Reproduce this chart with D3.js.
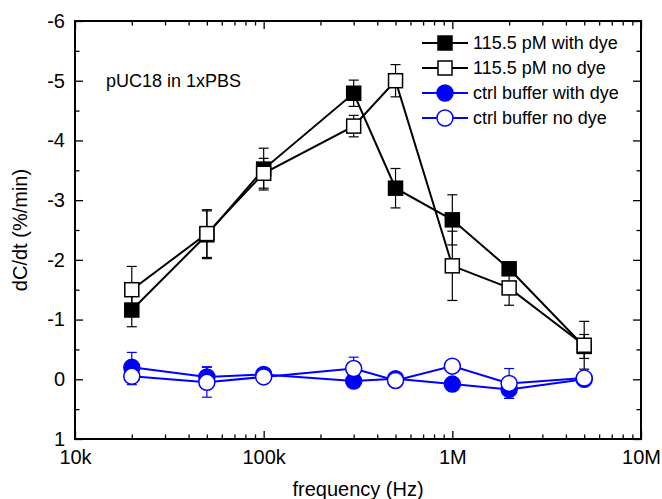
<!DOCTYPE html>
<html lang="en">
<head>
	<meta charset="utf-8">
	<title>dC/dt vs frequency</title>
	<script src="https://cdn.jsdelivr.net/npm/d3@7/dist/d3.min.js"></script>
<style>
	body { margin: 0; background: #fff; }
	svg { font-family: "Liberation Sans", Arial, sans-serif; }
	.axis path { display: none; }
	.axis line { stroke: #000; stroke-width: 1.3; }
	.axis text { font-size: 20px; fill: #000; }
</style>
</head>
<body>
<svg id="chart" width="662" height="499"></svg>
<script>
	// frequencies in Hz
	var freqs = [2e4, 5e4, 1e5, 3e5, 5e5, 1e6, 2e6, 5e6];

	var dyeVals = [-1.16, -2.42, -3.52, -4.79, -3.2, -2.67, -1.85, -0.55];
	var dyeErr = [0.28, 0.4, 0.35, 0.22, 0.33, 0.42, 0.1, 0.2];
	var noDyeVals = [-1.5, -2.44, -3.45, -4.24, -5.0, -1.9, -1.53, -0.57];
	var noDyeErr = [0.39, 0.4, 0.25, 0.18, 0.27, 0.58, 0.29, 0.4];
	var ctrlDyeVals = [-0.2, -0.04, -0.08, 0.03, -0.01, 0.08, 0.17, 0.0];
	var ctrlDyeErr = [0.25, 0.17, 0.1, 0.08, 0.05, 0.06, 0.15, 0.05];
	var ctrlNoDyeVals = [-0.05, 0.05, -0.04, -0.18, 0.02, -0.22, 0.07, -0.02];
	var ctrlNoDyeErr = [0.14, 0.25, 0.06, 0.19, 0.05, 0.05, 0.25, 0.07];

	var seriesNames = ['115.5 pM with dye', '115.5 pM no dye', 'ctrl buffer with dye', 'ctrl buffer no dye'];

	var xTickVals = [1e4, 1e5, 1e6, 1e7];
	var xTickLabels = ['10k', '100k', '1M', '10M'];
	var yTickVals = [-6, -5, -4, -3, -2, -1, 0, 1];
	var yTickLabels = ['-6', '-5', '-4', '-3', '-2', '-1', '0', '1'];

	var svg = d3.select('#chart'),
		margin = {top: 21, right: 21, bottom: 60, left: 75},
		width = +svg.attr('width') - margin.left - margin.right,
		height = +svg.attr('height') - margin.top - margin.bottom;

	var g = svg.append('g')
		.attr('transform', 'translate(' + margin.left + ',' + margin.top + ')');

	var x = d3.scaleLog().domain([1e4, 1e7]).range([0, width]),
		y = d3.scaleLinear().domain([-6, 1]).range([0, height]);

	var minorX = [];
	[1e4, 1e5, 1e6].forEach(function(d) {
		for (var k = 2; k <= 9; k++) minorX.push(d * k);
	});
	var minorY = yTickVals.slice(0, -1).map(function(d) { return d + 0.5; });

	// major + minor ticks on all four sides, pointing inward
	g.append('g').attr('class', 'axis')
		.attr('transform', 'translate(0,' + height + ')')
		.call(d3.axisBottom(x).tickValues(xTickVals).tickSize(-8).tickPadding(11)
			.tickFormat(function(d, i) { return xTickLabels[i]; }));
	g.append('g').attr('class', 'axis')
		.attr('transform', 'translate(0,' + height + ')')
		.call(d3.axisBottom(x).tickValues(minorX).tickSize(-4.5).tickFormat(''));
	g.append('g').attr('class', 'axis')
		.call(d3.axisTop(x).tickValues(xTickVals).tickSize(-8).tickFormat(''));
	g.append('g').attr('class', 'axis')
		.call(d3.axisTop(x).tickValues(minorX).tickSize(-4.5).tickFormat(''));

	g.append('g').attr('class', 'axis')
		.call(d3.axisLeft(y).tickValues(yTickVals).tickSize(-8).tickPadding(10)
			.tickFormat(function(d, i) { return yTickLabels[i]; }));
	g.append('g').attr('class', 'axis')
		.call(d3.axisLeft(y).tickValues(minorY).tickSize(-4.5).tickFormat(''));
	g.append('g').attr('class', 'axis')
		.attr('transform', 'translate(' + width + ',0)')
		.call(d3.axisRight(y).tickValues(yTickVals).tickSize(-8).tickFormat(''));
	g.append('g').attr('class', 'axis')
		.attr('transform', 'translate(' + width + ',0)')
		.call(d3.axisRight(y).tickValues(minorY).tickSize(-4.5).tickFormat(''));

	g.append('rect')
		.attr('width', width).attr('height', height)
		.attr('fill', 'none').attr('stroke', '#000').attr('stroke-width', 2);

	// axis titles
	svg.append('text')
		.attr('x', margin.left + width / 2).attr('y', 496)
		.attr('text-anchor', 'middle').attr('font-size', 20)
		.text('frequency (Hz)');
	svg.append('text')
		.attr('transform', 'translate(27,' + (margin.top + height / 2) + ') rotate(-90)')
		.attr('text-anchor', 'middle').attr('font-size', 20)
		.text('dC/dt (%/min)');

	g.append('text')
		.attr('x', 31).attr('y', 66)
		.attr('font-size', 18)
		.text('pUC18 in 1xPBS');

	var series = [
		{vals: dyeVals, err: dyeErr, color: '#000', shape: 'square', filled: true},
		{vals: noDyeVals, err: noDyeErr, color: '#000', shape: 'square', filled: false},
		{vals: ctrlDyeVals, err: ctrlDyeErr, color: '#0000ff', shape: 'circle', filled: true},
		{vals: ctrlNoDyeVals, err: ctrlNoDyeErr, color: '#0000ff', shape: 'circle', filled: false}
	];

	var line = d3.line()
		.x(function(d) { return x(d[0]); })
		.y(function(d) { return y(d[1]); });

	function drawMarker(sel, s) {
		if (s.shape == 'square') {
			sel.append('rect')
				.attr('x', -7).attr('y', -7).attr('width', 14).attr('height', 14)
				.attr('fill', s.filled ? s.color : '#fff')
				.attr('stroke', s.color).attr('stroke-width', 1.5);
		} else {
			sel.append('circle')
				.attr('r', 8)
				.attr('fill', s.filled ? s.color : '#fff')
				.attr('stroke', s.color).attr('stroke-width', 1.5);
		}
	}

	series.forEach(function(s) {
		var pts = freqs.map(function(f, i) { return [f, s.vals[i], s.err[i]]; });

		var eb = g.append('g').selectAll('g')
			.data(pts).enter().append('g')
			.attr('stroke', s.color).attr('stroke-width', 1.2);
		eb.append('line')
			.attr('x1', function(d) { return x(d[0]); })
			.attr('x2', function(d) { return x(d[0]); })
			.attr('y1', function(d) { return y(d[1] - d[2]); })
			.attr('y2', function(d) { return y(d[1] + d[2]); });
		[-1, 1].forEach(function(sg) {
			eb.append('line')
				.attr('x1', function(d) { return x(d[0]) - 5; })
				.attr('x2', function(d) { return x(d[0]) + 5; })
				.attr('y1', function(d) { return y(d[1] + sg * d[2]); })
				.attr('y2', function(d) { return y(d[1] + sg * d[2]); });
		});

		g.append('path')
			.datum(pts)
			.attr('fill', 'none')
			.attr('stroke', s.color)
			.attr('stroke-width', 2)
			.attr('d', line);

		g.append('g').selectAll('g')
			.data(pts).enter().append('g')
			.attr('transform', function(d) { return 'translate(' + x(d[0]) + ',' + y(d[1]) + ')'; })
			.each(function() { drawMarker(d3.select(this), s); });
	});

	// legend
	var legend = svg.append('g').attr('transform', 'translate(422,43)');
	series.forEach(function(s, i) {
		var row = legend.append('g').attr('transform', 'translate(0,' + (i * 25) + ')');
		row.append('line')
			.attr('x1', 0).attr('x2', 46)
			.attr('stroke', s.color).attr('stroke-width', 2);
		drawMarker(row.append('g').attr('transform', 'translate(23,0)'), s);
		row.append('text')
			.attr('x', 51).attr('dy', '0.35em')
			.attr('font-size', 18)
			.text(seriesNames[i]);
	});
</script>
</body>
</html>
